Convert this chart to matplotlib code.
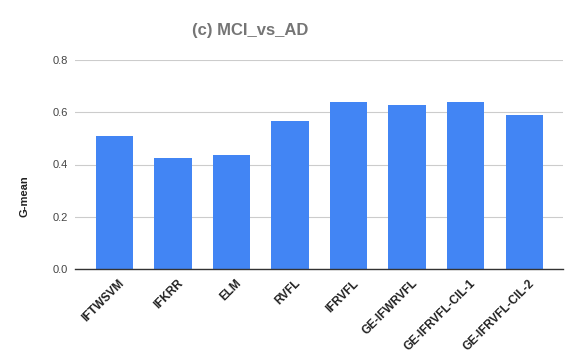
import matplotlib
matplotlib.use("Agg")
import matplotlib.pyplot as plt
from matplotlib.transforms import ScaledTranslation

categories = ["IFTWSVM", "IFKRR", "ELM", "RVFL", "IFRVFL", "GE-IFWRVFL", "GE-IFRVFL-CIL-1", "GE-IFRVFL-CIL-2"]
gmean = [0.509, 0.423, 0.435, 0.565, 0.639, 0.627, 0.639, 0.590]
yticks = [0.0, 0.2, 0.4, 0.6, 0.8]
ytick_labels = ["0.0", "0.2", "0.4", "0.6", "0.8"]

plt.rcParams['font.family'] = ['Liberation Sans', 'DejaVu Sans']

fig = plt.figure(figsize=(5.81, 3.6), dpi=100)
ax = fig.add_axes([75/581, 1-269/360, (563-75)/581, (269-60)/360])

x = list(range(len(categories)))
ax.bar(x, gmean, width=0.64, color="#4285F4", zorder=3)
ax.set_xlim(-0.67, len(categories) - 1 + 0.66)
ax.set_ylim(0, 0.8)
ax.set_yticks(yticks)
ax.set_yticklabels(ytick_labels, fontsize=8, color="#444444")
ax.yaxis.grid(True, color="#cccccc", linewidth=0.8, zorder=0)
ax.tick_params(axis='both', length=0)
ax.tick_params(axis='y', pad=5)
for s in ['top', 'right', 'left']:
    ax.spines[s].set_visible(False)
ax.spines['bottom'].set_color("#333333")
ax.spines['bottom'].set_linewidth(1.0)
ax.spines['bottom'].set_zorder(4)

ax.set_xticks(x)
ax.set_xticklabels(categories, rotation=45, ha='right', rotation_mode='anchor',
                   fontsize=8.5, fontweight='bold', color="#222222")
ax.tick_params(axis='x', pad=6)
offset = ScaledTranslation(4/100, 0, fig.dpi_scale_trans)
for lbl in ax.get_xticklabels():
    lbl.set_transform(lbl.get_transform() + offset)

fig.text(25/581, 1-196/360, "G-mean", rotation=90, ha='center', va='center',
         fontsize=8, fontweight='bold', color="#222222")
fig.text(250/581, 1-31/360, "(c) MCI_vs_AD", ha='center', va='center',
         fontsize=12, fontweight='bold', color="#757575")

fig.savefig("out.png", dpi=100)
